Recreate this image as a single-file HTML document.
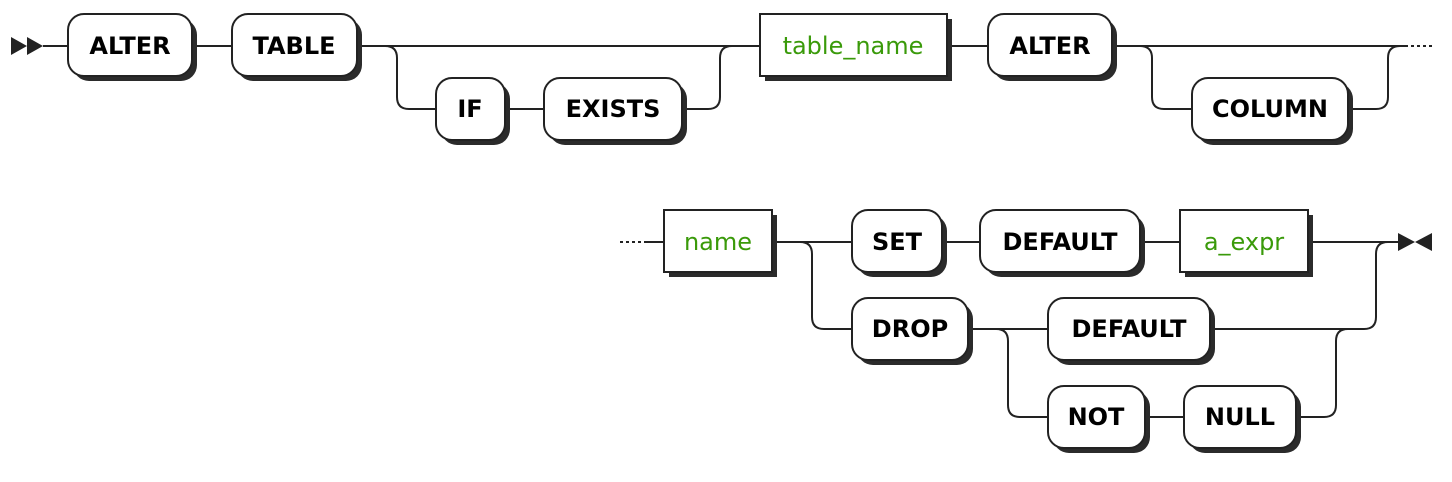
<!DOCTYPE html>
<html><head><meta charset="utf-8"><style>
html,body{margin:0;padding:0;background:#fff}
svg{display:block}
.t{font-family:"DejaVu Sans","Liberation Sans",sans-serif;font-weight:bold;font-size:24px;fill:#000;text-anchor:middle;dominant-baseline:central}
.n{font-family:"DejaVu Sans","Liberation Sans",sans-serif;font-size:24px;fill:#3a9a0a;text-anchor:middle;dominant-baseline:central}
.l{fill:none;stroke:#222;stroke-width:2}
</style></head><body>
<svg width="1452" height="482" viewBox="0 0 1452 482" xmlns="http://www.w3.org/2000/svg">
<polygon points="11,37 27,46 11,55" fill="#222"/>
<polygon points="27,37 43,46 27,55" fill="#222"/>
<path class="l" d="M43,46 H68 M192,46 H232 M357,46 H760 M947,46 H988 M1112,46 H1405"/>
<path class="l" d="M1405,46 H1434" stroke-dasharray="3,3"/>
<path class="l" d="M357,46 H385 Q397,46 397,58 V97 Q397,109 409,109 H436 M505,109 H544 M682,109 H708 Q720,109 720,97 V58 Q720,46 732,46"/>
<path class="l" d="M1112,46 H1140 Q1152,46 1152,58 V97 Q1152,109 1164,109 H1192 M1348,109 H1376 Q1388,109 1388,97 V58 Q1388,46 1400,46"/>
<path class="l" d="M620,242 H646" stroke-dasharray="3,3"/>
<path class="l" d="M646,242 H664 M772,242 H852 M942,242 H980 M1140,242 H1180 M1308,242 H1398"/>
<path class="l" d="M772,242 H800 Q812,242 812,254 V317 Q812,329 824,329 H852"/>
<path class="l" d="M968,329 H1048 M1210,329 H1364 Q1376,329 1376,317 V254 Q1376,242 1388,242"/>
<path class="l" d="M968,329 H996 Q1008,329 1008,341 V405 Q1008,417 1020,417 H1048 M1145,417 H1184 M1296,417 H1324 Q1336,417 1336,405 V341 Q1336,329 1348,329"/>
<polygon points="1398,233 1415,242 1398,251" fill="#222"/>
<polygon points="1432,233 1415,242 1432,251" fill="#222"/>
<g>
<rect x="73" y="19" width="124" height="62" rx="16" fill="#2b2b2b"/><rect x="68" y="14" width="124" height="62" rx="16" fill="#fff" stroke="#222" stroke-width="2"/><text class="t" x="130" y="46">ALTER</text>
<rect x="237" y="19" width="125" height="62" rx="16" fill="#2b2b2b"/><rect x="232" y="14" width="125" height="62" rx="16" fill="#fff" stroke="#222" stroke-width="2"/><text class="t" x="294" y="46">TABLE</text>
<rect x="441" y="83" width="69" height="62" rx="16" fill="#2b2b2b"/><rect x="436" y="78" width="69" height="62" rx="16" fill="#fff" stroke="#222" stroke-width="2"/><text class="t" x="470" y="109">IF</text>
<rect x="549" y="83" width="138" height="62" rx="16" fill="#2b2b2b"/><rect x="544" y="78" width="138" height="62" rx="16" fill="#fff" stroke="#222" stroke-width="2"/><text class="t" x="613" y="109">EXISTS</text>
<rect x="765" y="19" width="187" height="62" fill="#2b2b2b"/><rect x="760" y="14" width="187" height="62" fill="#fff" stroke="#222" stroke-width="2"/><text class="n" x="853" y="46">table_name</text>
<rect x="993" y="19" width="124" height="62" rx="16" fill="#2b2b2b"/><rect x="988" y="14" width="124" height="62" rx="16" fill="#fff" stroke="#222" stroke-width="2"/><text class="t" x="1050" y="46">ALTER</text>
<rect x="1197" y="83" width="156" height="62" rx="16" fill="#2b2b2b"/><rect x="1192" y="78" width="156" height="62" rx="16" fill="#fff" stroke="#222" stroke-width="2"/><text class="t" x="1270" y="109">COLUMN</text>
<rect x="669" y="215" width="108" height="62" fill="#2b2b2b"/><rect x="664" y="210" width="108" height="62" fill="#fff" stroke="#222" stroke-width="2"/><text class="n" x="718" y="242">name</text>
<rect x="857" y="215" width="90" height="62" rx="16" fill="#2b2b2b"/><rect x="852" y="210" width="90" height="62" rx="16" fill="#fff" stroke="#222" stroke-width="2"/><text class="t" x="897" y="242">SET</text>
<rect x="985" y="215" width="160" height="62" rx="16" fill="#2b2b2b"/><rect x="980" y="210" width="160" height="62" rx="16" fill="#fff" stroke="#222" stroke-width="2"/><text class="t" x="1060" y="242">DEFAULT</text>
<rect x="1185" y="215" width="128" height="62" fill="#2b2b2b"/><rect x="1180" y="210" width="128" height="62" fill="#fff" stroke="#222" stroke-width="2"/><text class="n" x="1244" y="242">a_expr</text>
<rect x="857" y="303" width="116" height="62" rx="16" fill="#2b2b2b"/><rect x="852" y="298" width="116" height="62" rx="16" fill="#fff" stroke="#222" stroke-width="2"/><text class="t" x="910" y="329">DROP</text>
<rect x="1053" y="303" width="162" height="62" rx="16" fill="#2b2b2b"/><rect x="1048" y="298" width="162" height="62" rx="16" fill="#fff" stroke="#222" stroke-width="2"/><text class="t" x="1129" y="329">DEFAULT</text>
<rect x="1053" y="391" width="97" height="62" rx="16" fill="#2b2b2b"/><rect x="1048" y="386" width="97" height="62" rx="16" fill="#fff" stroke="#222" stroke-width="2"/><text class="t" x="1096" y="417">NOT</text>
<rect x="1189" y="391" width="112" height="62" rx="16" fill="#2b2b2b"/><rect x="1184" y="386" width="112" height="62" rx="16" fill="#fff" stroke="#222" stroke-width="2"/><text class="t" x="1240" y="417">NULL</text>
</g>
</svg>
</body></html>
